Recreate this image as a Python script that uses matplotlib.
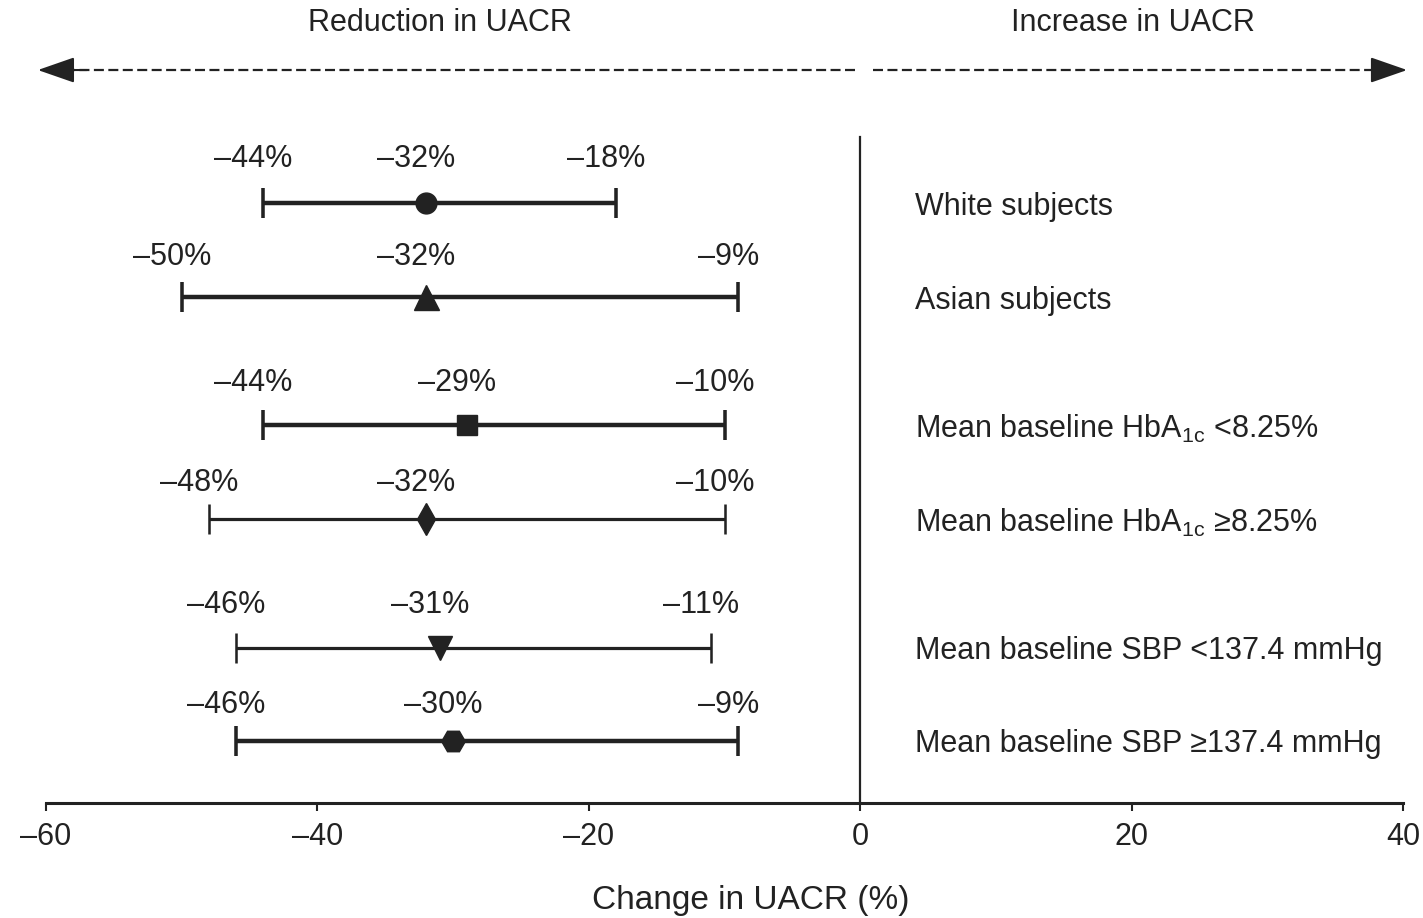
import numpy as np
import matplotlib.pyplot as plt

plt.rcParams['font.family'] = ['Liberation Sans', 'DejaVu Sans']
plt.rcParams['mathtext.default'] = 'regular'

# subgroup results: point estimate and 95% CI of change in UACR (%)
groups = ["White subjects", "Asian subjects",
          "Mean baseline HbA$_{1c}$ <8.25%", "Mean baseline HbA$_{1c}$ \u22658.25%",
          "Mean baseline SBP <137.4 mmHg", "Mean baseline SBP \u2265137.4 mmHg"]
est = [-32, -32, -29, -32, -31, -30]
lo = [-44, -50, -44, -48, -46, -46]
hi = [-18, -9, -10, -10, -11, -9]
markers = ['o', '^', 's', 'd', 'v', 'H']
msizes = [15, 18, 15, 16, 17, 17]
widths = [3.2, 3.2, 3.2, 2.3, 2.3, 3.2]
ypos = [0, 1, 2.36, 3.36, 4.73, 5.72]
label_dy = [-0.47, -0.43, -0.45, -0.38, -0.45, -0.38]
xticks = [-60, -40, -20, 0, 20, 40]

ink = '#222222'
fs = 22

fig = plt.figure(figsize=(14.23, 9.18), dpi=100)
ax = fig.add_axes([46/1423, 1 - 803/918, 1357/1423, 803/918])

for i in range(len(groups)):
    y = ypos[i]
    ax.errorbar(est[i], y, xerr=[[est[i] - lo[i]], [hi[i] - est[i]]],
                fmt=markers[i], color=ink, ms=msizes[i],
                lw=widths[i], capsize=11, capthick=widths[i] * 0.8)
    for v in (lo[i], est[i], hi[i]):
        ax.text(v - 0.7, y + label_dy[i], f"\u2013{abs(v)}%", ha='center', va='center',
                fontsize=fs, color=ink)
    ax.text(4.05, y + 0.04, groups[i], ha='left', va='center', fontsize=fs, color=ink)

# zero reference line
ax.plot([0, 0], [-0.70, 6.383], color=ink, lw=1.6, clip_on=False)

# direction arrows and headings
ax.plot([-0.4, -58.5], [-1.415, -1.415], color=ink, lw=1.6, dashes=(4.5, 2), clip_on=False)
ax.plot([0.95, 38.5], [-1.415, -1.415], color=ink, lw=1.6, dashes=(4.5, 2), clip_on=False)
for tail, tip in ((-57.0, -60.6), (38.0, 40.3)):
    ax.annotate('', xy=(tip, -1.415), xytext=(tail, -1.415), annotation_clip=False,
                arrowprops=dict(arrowstyle='-|>,head_length=23,head_width=8',
                                mutation_scale=1, color=ink, lw=1.5, shrinkA=0, shrinkB=0))
ax.text(-30.95, -1.92, "Reduction in UACR", ha='center', va='center', fontsize=fs, color=ink)
ax.text(20.1, -1.92, "Increase in UACR", ha='center', va='center', fontsize=fs, color=ink)

ax.set_xlim(-60, 40)
ax.set_ylim(6.383, -2.16)
ax.set_xticks(xticks)
ax.set_xticklabels([f"\u2013{abs(t)}" if t < 0 else str(t) for t in xticks])
ax.tick_params(axis='x', direction='out', length=6, width=1.5, pad=8,
               labelsize=fs, colors=ink)
ax.set_yticks([])
for s in ('top', 'left', 'right'):
    ax.spines[s].set_visible(False)
ax.spines['bottom'].set_linewidth(2.2)
ax.spines['bottom'].set_color(ink)

ax.text(0.5195, -0.121, "Change in UACR (%)", transform=ax.transAxes,
        ha='center', va='center', fontsize=fs + 2, color=ink)

fig.savefig('out.png', dpi=100)
